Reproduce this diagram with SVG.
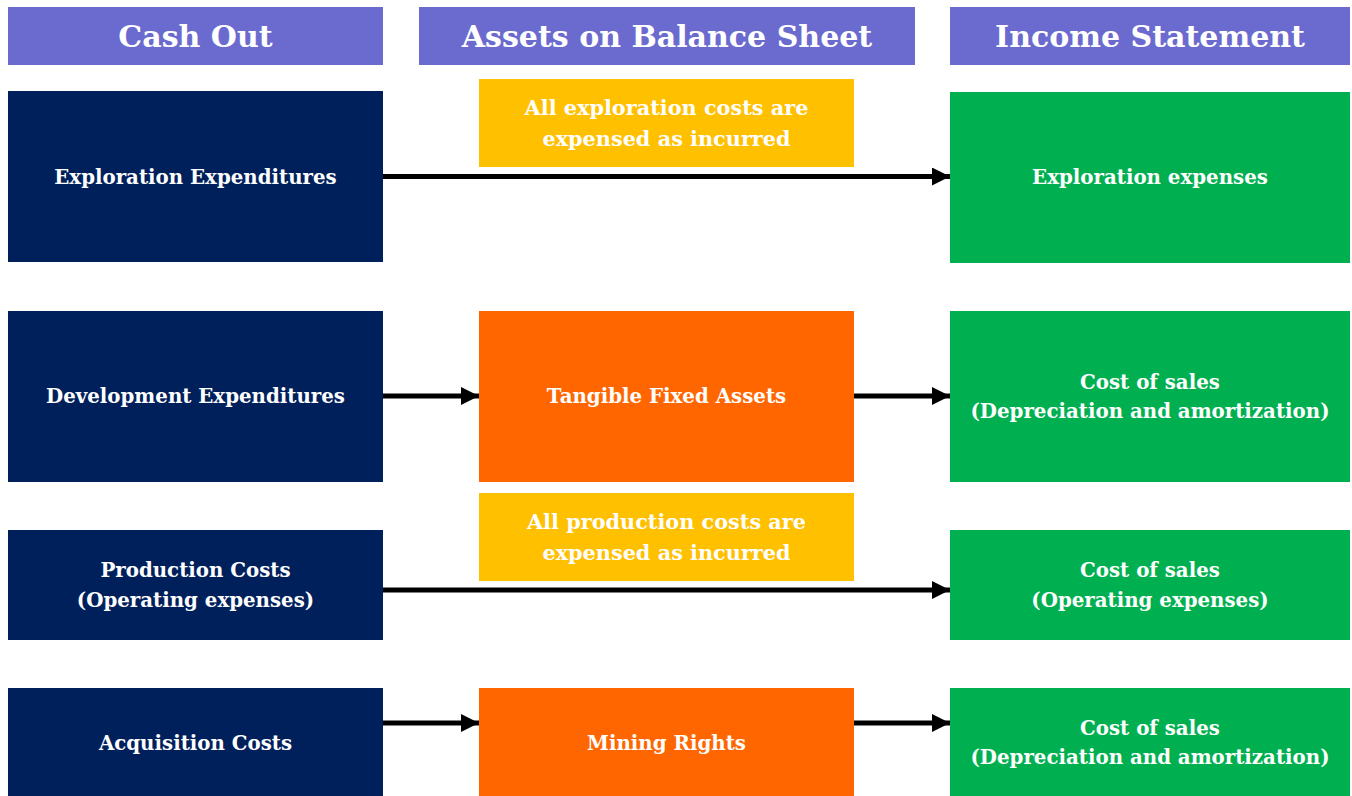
<svg xmlns="http://www.w3.org/2000/svg" width="1352" height="796" viewBox="0 0 1352 796">
<style>
.hdr{fill:#6B6BCF}
.navy{fill:#00205C}
.yel{fill:#FFC000}
.org{fill:#FF6600}
.grn{fill:#00B050}
text{font-family:"Palatino Linotype","Book Antiqua","DejaVu Serif",serif;font-weight:bold;fill:#FFFFFF;text-anchor:middle}
.ht{font-size:30px}
.bt{font-size:19.8px}
.yt{font-size:20.8px}
.conn line{stroke:#000;stroke-width:5}
</style>
<defs>
<marker id="ah" markerUnits="userSpaceOnUse" markerWidth="18" markerHeight="18" refX="17" refY="8.5" orient="auto" viewBox="0 0 17 17">
<path d="M0,0 L17,8.5 L0,17 z" fill="#000"/>
</marker>
</defs>
<rect width="1352" height="796" fill="#fff"/>
<g id="h1"><rect class="hdr" x="8" y="7" width="375" height="58"/><text class="ht" x="195.5" y="47">Cash Out</text></g>
<g id="h2"><rect class="hdr" x="419" y="7" width="496" height="58"/><text class="ht" x="667" y="47">Assets on Balance Sheet</text></g>
<g id="h3"><rect class="hdr" x="950" y="7" width="400" height="58"/><text class="ht" x="1150" y="47">Income Statement</text></g>

<g id="n1"><rect class="navy" x="8" y="91" width="375" height="171"/><text class="bt" x="195.5" y="184">Exploration Expenditures</text></g>
<g id="n2"><rect class="navy" x="8" y="311" width="375" height="171"/><text class="bt" x="195.5" y="403">Development Expenditures</text></g>
<g id="n3"><rect class="navy" x="8" y="530" width="375" height="110"/><text class="bt" x="195.5" y="577">Production Costs</text><text class="bt" x="195.5" y="607">(Operating expenses)</text></g>
<g id="n4"><rect class="navy" x="8" y="688" width="375" height="108"/><text class="bt" x="195.5" y="750">Acquisition Costs</text></g>

<g id="y1"><rect class="yel" x="479" y="79" width="375" height="88"/><text class="yt" x="666.5" y="115">All exploration costs are</text><text class="yt" x="666.5" y="146">expensed as incurred</text></g>
<g id="o1"><rect class="org" x="479" y="311" width="375" height="171"/><text class="bt" x="666.5" y="403">Tangible Fixed Assets</text></g>
<g id="y2"><rect class="yel" x="479" y="493" width="375" height="88"/><text class="yt" x="666.5" y="529">All production costs are</text><text class="yt" x="666.5" y="560">expensed as incurred</text></g>
<g id="o2"><rect class="org" x="479" y="688" width="375" height="108"/><text class="bt" x="666.5" y="750">Mining Rights</text></g>

<g id="g1"><rect class="grn" x="950" y="92" width="400" height="171"/><text class="bt" x="1150" y="184">Exploration expenses</text></g>
<g id="g2"><rect class="grn" x="950" y="311" width="400" height="171"/><text class="bt" x="1150" y="389">Cost of sales</text><text class="bt" x="1150" y="418">(Depreciation and amortization)</text></g>
<g id="g3"><rect class="grn" x="950" y="530" width="400" height="110"/><text class="bt" x="1150" y="577">Cost of sales</text><text class="bt" x="1150" y="607">(Operating expenses)</text></g>
<g id="g4"><rect class="grn" x="950" y="688" width="400" height="108"/><text class="bt" x="1150" y="735">Cost of sales</text><text class="bt" x="1150" y="764">(Depreciation and amortization)</text></g>

<g id="connectors" class="conn">
<line x1="383" y1="176.5" x2="950" y2="176.5" marker-end="url(#ah)"/>
<line x1="383" y1="396" x2="479" y2="396" marker-end="url(#ah)"/>
<line x1="854" y1="396" x2="950" y2="396" marker-end="url(#ah)"/>
<line x1="383" y1="590" x2="950" y2="590" marker-end="url(#ah)"/>
<line x1="383" y1="723" x2="479" y2="723" marker-end="url(#ah)"/>
<line x1="854" y1="723" x2="950" y2="723" marker-end="url(#ah)"/>
</g>
</svg>
